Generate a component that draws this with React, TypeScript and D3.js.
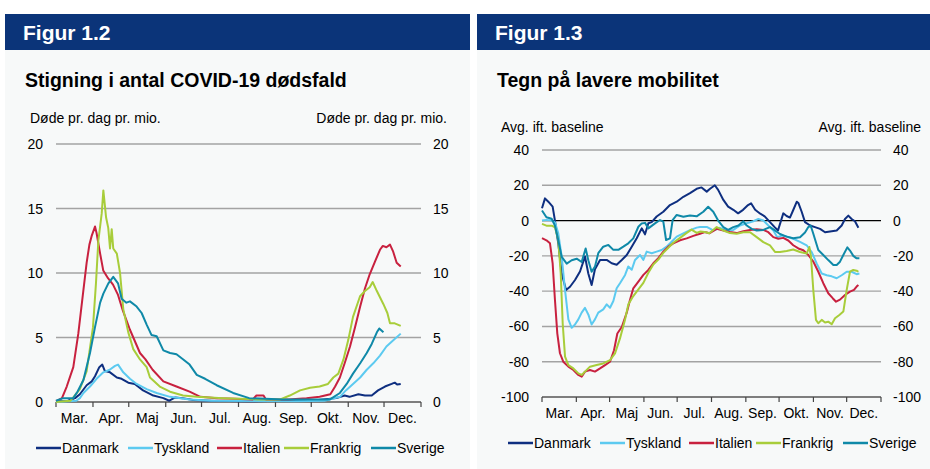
import * as d3 from 'd3';

const MONTHS = ['Mar.', 'Apr.', 'Maj', 'Jun.', 'Jul.', 'Aug.', 'Sep.', 'Okt.', 'Nov.', 'Dec.'];
const START = new Date(2020, 2, 1);
const END = new Date(2021, 0, 1);

const COUNTRIES = ['Danmark', 'Tyskland', 'Italien', 'Frankrig', 'Sverige'];
const COLORS: Record<string, string> = {
  Danmark: '#0e2f80',
  Tyskland: '#5ccaf0',
  Italien: '#c8213f',
  Frankrig: '#a8cd3a',
  Sverige: '#0f89a8',
};

// [days since 1 March, value]
type Pt = [number, number];

const DEATHS_DANMARK: Pt[] = [[0,0.05],[10,0.1],[16,0.3],[20,0.6],[25.7,1.3],[30,1.6],[32.7,2.0],[36.3,2.7],[38.8,2.9],[41,2.4],[45.3,2.3],[51,1.9],[55,1.8],[60.6,1.5],[66,1.4],[73,0.9],[81.6,0.5],[90,0.3],[95,0.1],[100,0.35],[106,0.3],[115,0.15],[130,0.1],[160,0.05],[190,0.1],[220,0.15],[235,0.3],[242,0.5],[246,0.4],[253.5,0.6],[259,0.5],[264.7,0.5],[270,0.9],[275.8,1.2],[281.4,1.4],[284,1.5],[286,1.35],[289,1.4]];
const DEATHS_TYSKLAND: Pt[] = [[0,0],[17,0.1],[20,0.3],[23,0.7],[28.5,1.2],[34,1.8],[39.7,2.3],[45,2.5],[49.5,2.8],[52,2.9],[56.4,2.3],[62,1.8],[67.6,1.4],[76,1.0],[84.4,0.7],[95.6,0.4],[112,0.2],[130,0.1],[200,0.05],[225,0.1],[238,0.4],[243,0.9],[249,1.4],[255,1.9],[260.5,2.5],[266,3.0],[271.6,3.6],[277,4.3],[283,4.8],[289,5.3]];
const DEATHS_ITALIEN: Pt[] = [[0,0.05],[5,0.3],[9,1.2],[14.5,2.7],[18.7,5.3],[23,8.7],[25.7,10.8],[28,12.2],[30,12.9],[32.7,13.6],[34,13.1],[37,11.5],[39.6,10.2],[43.6,9.6],[47.8,9.1],[52,8.3],[56,7.1],[62,5.6],[70.4,3.8],[75,3.3],[81,2.5],[90,1.6],[101,1.2],[112,0.8],[121,0.4],[135,0.3],[150,0.25],[165,0.2],[168,0.5],[174,0.5],[176,0.2],[195,0.2],[210,0.3],[221,0.4],[230,0.6],[234,1.2],[238,1.9],[242,3.0],[246.5,4.3],[250.7,5.8],[255,7.4],[259,8.8],[263,9.9],[267.5,10.9],[271.6,11.8],[274,12.1],[277,12.0],[280,12.2],[282.5,11.7],[285.6,10.8],[289,10.5]];
const DEATHS_FRANKRIG: Pt[] = [[0,0],[12,0.1],[14,0.3],[20,1.0],[25.7,2.4],[31,5.8],[33.5,9.2],[35.5,12.5],[38.3,14.6],[39.7,16.4],[42,14.3],[43.8,13.5],[45.3,11.9],[46.7,13.4],[48,11.9],[51,11.5],[53.7,10],[56.4,7.2],[60.6,5.4],[64.8,4.1],[70.4,3.3],[76,2.7],[78.8,1.9],[87,1.2],[95.6,0.8],[106.5,0.5],[118,0.4],[140,0.3],[170,0.2],[188,0.2],[196,0.5],[204.6,0.9],[213,1.1],[221,1.2],[228,1.4],[232.5,1.9],[236.7,2.2],[241,3.3],[245,4.8],[249,6.6],[254.9,8.2],[259,8.6],[263,8.9],[265.5,9.3],[269,8.6],[274.4,7.6],[277.8,6.9],[280,6.1],[284,6.1],[289,5.9]];
const DEATHS_SVERIGE: Pt[] = [[0,0.1],[6,0.3],[14.5,0.3],[18,0.8],[23,1.7],[28.5,3.8],[32.7,5.8],[37,7.7],[39.7,8.4],[43.9,9.2],[48,9.7],[52,9.2],[55,8.0],[59,7.7],[62,7.8],[67.6,7.4],[71.8,6.9],[76,6.0],[80,5.2],[84.4,5.1],[90,4.0],[95.6,3.8],[101,3.7],[106.7,3.3],[112,2.9],[118,2.1],[125,1.8],[134.7,1.3],[148.5,0.7],[162,0.3],[190,0.2],[220,0.2],[229.7,0.2],[238,0.7],[243.7,1.4],[249,2.2],[255,3.0],[260.5,3.8],[264.7,4.5],[269,5.4],[271,5.7],[274.5,5.4]];

const MOB_DANMARK: Pt[] = [[0,7],[2.7,12.6],[5.7,10.7],[9.6,7.9],[11.7,0],[14.7,-13],[17.8,-30],[21.7,-39.4],[25.3,-37.5],[29.8,-33.7],[34.3,-28.9],[38.8,-20.4],[41.8,-30],[44.8,-36.5],[47.8,-27.6],[52.4,-22.3],[58.4,-22.3],[62.9,-24.2],[67.4,-25],[72,-22.3],[76.5,-19.5],[81,-14.8],[85.5,-10],[90,-4.4],[93,-7.8],[96,-1.5],[99,-0.9],[103.5,2.3],[109.5,5],[115.5,8.8],[121.6,10.7],[127.6,13.5],[133.6,15.6],[139.6,18],[144,18.8],[148.7,16.4],[151.7,18],[156,20],[159,17.4],[163.7,11.7],[168,7.9],[172.7,6.1],[177,4.1],[181.5,6.1],[186,8.8],[188.7,9.8],[192.4,6.1],[197,3.9],[201,2.4],[205.8,-0.9],[210,-3.7],[213,-5.6],[217.8,4.1],[220.8,2.6],[223.8,1.7],[226.8,6],[230,10.7],[231.4,10],[234.4,5],[237.4,-0.9],[242,-2.8],[246.4,-3.7],[251,-4.7],[255.5,-6.6],[260,-6.2],[266,-5.6],[270.5,-2.8],[273.5,0.9],[276.5,2.8],[279.5,0.9],[282.5,-0.4],[285.6,-4.1]];
const MOB_TYSKLAND: Pt[] = [[0,0],[4,0.4],[8.7,0],[11.7,-1],[14.7,-7.2],[17.8,-20.6],[20.8,-39.4],[23.8,-56],[26.8,-60.8],[29.8,-58.9],[32.8,-56],[35.8,-52.2],[38.8,-49.5],[41.8,-53.2],[44.8,-58.9],[47.8,-56],[50.8,-52.2],[55.3,-50.3],[58.4,-47.5],[61.4,-49.4],[64.4,-45.6],[67.4,-38.4],[70.4,-35.5],[75,-30.8],[77.9,-26],[81,-27.9],[84,-22.3],[88.5,-19.5],[91.5,-22.3],[94.5,-17.6],[99,-18.5],[103.5,-17.6],[108,-16.7],[112.5,-14.8],[117,-12],[121.6,-9.1],[127.6,-7.2],[133.6,-5.4],[139.6,-4],[142.6,-3.7],[148.7,-3.6],[154.6,-5.6],[160.7,-4.1],[166.7,-5.6],[172.7,-5.3],[178.7,-2.8],[184.8,-1.5],[190.8,-0.4],[195.3,0.9],[199.8,0],[204.3,-2.8],[208.8,-5.6],[212.4,-9.4],[216.4,-8.5],[220.8,-9],[226.8,-10.3],[232.9,-12.1],[238.9,-14],[243.4,-17.8],[248,-24.4],[252.5,-30],[257,-31],[261.5,-31.6],[266,-32.7],[270.5,-31],[275,-29],[279.5,-29],[284,-30.4],[286.5,-30]];
const MOB_ITALIEN: Pt[] = [[0,-10],[4,-11.2],[7.2,-12.9],[9.6,-24.2],[11.7,-45],[13.8,-63.9],[16.2,-75.2],[19.2,-80],[23.8,-82.8],[28.3,-84.7],[32.8,-87.5],[35.8,-88.5],[38.8,-85.6],[43.3,-84.7],[47.8,-85.6],[52.4,-83.8],[56.9,-81.9],[61.4,-80],[65,-73.5],[68,-64],[72,-60.3],[76.5,-52.2],[79.4,-45],[82.4,-38.4],[87,-34.6],[91.5,-30.8],[96,-28],[100.5,-24.2],[105,-21.3],[109.5,-17.6],[114,-14.8],[118.5,-12.9],[124.6,-11.2],[130.6,-10.1],[136.6,-8.7],[142.6,-7.5],[147,-6.5],[151,-7.2],[157.7,-4.7],[163.7,-5.6],[169.7,-6.5],[175.7,-7.1],[181.8,-6],[187.8,-5.3],[193.8,-4.9],[199.8,-5.3],[204.3,-6.6],[208.8,-9.4],[213.3,-10.3],[217.8,-9.8],[222.3,-11.3],[226.8,-14],[231.4,-15.8],[235.9,-16.8],[240.4,-19.5],[244.9,-23.3],[249.4,-29],[253.9,-35.5],[258.4,-41.2],[262.4,-44],[265.4,-46],[269,-44.8],[273.5,-42.2],[278,-40.3],[281.6,-39.3],[284,-37.4],[285.6,-36.5]];
const MOB_FRANKRIG: Pt[] = [[0,-1.9],[4,-2.9],[8.7,-2.9],[11.7,-3.8],[14.7,-11.2],[16.9,-30],[18.7,-58.5],[20.8,-77.1],[23.8,-81.9],[28.3,-83.8],[32.8,-86.6],[35.8,-87.5],[38.8,-85.6],[43.3,-82.8],[49.3,-81.9],[55.3,-81],[61.4,-79.1],[65.9,-75.3],[70.4,-66.8],[75,-56],[77.9,-47.5],[82.4,-42.8],[87,-39],[91.5,-35.3],[96,-29.6],[100.5,-24.9],[105,-22.1],[109.5,-18.3],[114,-15.4],[118.5,-12.6],[124.6,-9.8],[130.6,-7],[135,-5.1],[139.6,-7],[143,-6.2],[147,-6.5],[151,-7.2],[157.7,-3.7],[163.7,-5.6],[169.7,-7.1],[175.7,-7.5],[181.8,-6.6],[187.8,-6.6],[193.8,-9.4],[199.8,-12.2],[205.8,-14.1],[210.3,-17.8],[214.8,-17.8],[220.8,-17.2],[226.8,-16.4],[232.9,-17.8],[238.9,-18.7],[241.3,-15],[242.8,-20.5],[244.9,-39.4],[247.3,-56.3],[249.4,-58.2],[252.5,-56.3],[255.5,-57.8],[258.4,-57.3],[261.5,-58.8],[264.5,-55.4],[268.4,-53.5],[272,-51.6],[275,-39.4],[278,-29],[281,-28],[284,-28.4],[285.6,-29]];
const MOB_SVERIGE: Pt[] = [[0,5.7],[4,1.9],[8.7,1],[11.7,-2.9],[14.7,-11.2],[17.8,-20.6],[22.3,-24.4],[26.8,-22.5],[31.3,-21.6],[35.8,-23.5],[39.4,-15.8],[41.8,-22.5],[44.8,-29],[47.8,-26.1],[50.8,-18.5],[55.3,-14.8],[59.9,-13.8],[64.4,-16.6],[68.9,-16.6],[73.4,-14.8],[77.9,-12.9],[82.4,-10.1],[87,-3.5],[90,-1.6],[93,-1.3],[96,-4.4],[102,-1.6],[106.5,0.3],[109.5,-0.6],[112,-11],[115.5,-10.1],[117.9,0.3],[121.6,3.2],[127.6,2.2],[133.6,2.9],[139.6,2.4],[145.6,5],[150,7.8],[154.6,5],[159,0],[163.7,-3.7],[168,-5.3],[172.7,-3.7],[177.3,-2.8],[181.8,-0.4],[184.8,-2.8],[189.3,-4.7],[193.8,-5.6],[199.8,-5.3],[205.8,-3.7],[210.3,-5.6],[214.8,-7.6],[220.8,-9.1],[226.8,-10],[232.9,-9.5],[237.4,-6.8],[240.4,-3.7],[242.5,-2.8],[244.9,-7.5],[249.4,-16.7],[253.9,-19.5],[258.4,-22.4],[263,-25.2],[266,-25.2],[269,-23.3],[272,-19.5],[275.6,-15.2],[278,-17],[281,-20],[284,-21.4],[286.5,-21.4]];

const DEATH_TICKS = [0, 5, 10, 15, 20];
const MOB_TICKS = [-100, -80, -60, -40, -20, 0, 20, 40];

const FONT = '"Liberation Sans", Arial, sans-serif';
const HEADER_BLUE = '#0b3479';
const PANEL_BG = '#f7f9f9';
const LEGEND_X = [31, 123, 212, 279, 366];

type PanelProps = {
  px: number;
  pw: number;
  figure: string;
  title: string;
  unit: string;
  unitLeftX: number;
  unitRightX: number;
  unitY: number;
  x0: number;
  x1: number;
  yTop: number;
  yBottom: number;
  domain: [number, number];
  ticks: number[];
  series: Pt[][];
  zeroLine: boolean;
};

function Panel(p: PanelProps) {
  const x = d3.scaleTime().domain([START, END]).range([p.x0, p.x1]);
  const y = d3.scaleLinear().domain(p.domain).range([p.yBottom, p.yTop]);
  const line = d3.line<Pt>()
    .x(d => x(d3.timeDay.offset(START, 0) .getTime() + d[0] * 864e5))
    .y(d => y(d[1]));
  const monthStarts = d3.timeMonth.range(START, END);
  const tickDates = [...monthStarts, END];

  return (
    <g fontFamily={FONT}>
      <rect x={p.px} y={50} width={p.pw} height={419} fill={PANEL_BG} />
      <rect x={p.px} y={14} width={p.pw} height={36} fill={HEADER_BLUE} />
      <text x={p.px + 18} y={39.5} fill="white" fontSize={21} fontWeight={700}>{p.figure}</text>
      <text x={p.px + 20} y={87} fill="#000" fontSize={19.5} fontWeight={700}>{p.title}</text>
      <text x={p.unitLeftX} y={p.unitY} fontSize={14} fill="#000">{p.unit}</text>
      <text x={p.unitRightX} y={p.unitY} fontSize={14} fill="#000" textAnchor="end">{p.unit}</text>

      {/* gridlines */}
      {p.ticks.map(t => (
        <line key={t} x1={p.x0} x2={p.x1} y1={y(t)} y2={y(t)}
          stroke={t === 0 && p.zeroLine ? '#000' : '#a3a3a3'}
          strokeWidth={t === 0 && p.zeroLine ? 1.2 : 1.4} />
      ))}
      {p.ticks.map(t => (
        <g key={'l' + t} fontSize={14} fill="#000">
          <text x={p.x0 - 13} y={y(t) + 5} textAnchor="end">{t}</text>
          <text x={p.x1 + 12} y={y(t) + 5}>{t}</text>
        </g>
      ))}

      {/* x axis */}
      <line x1={p.x0} x2={p.x1} y1={p.yBottom} y2={p.yBottom} stroke="#444" strokeWidth={1.2} />
      {tickDates.map((d, i) => (
        <line key={i} x1={x(d)} x2={x(d)} y1={p.yBottom} y2={p.yBottom + 5} stroke="#444" strokeWidth={1.2} />
      ))}
      {monthStarts.map((d, i) => {
        const next = tickDates[i + 1];
        return (
          <text key={i} x={(x(d) + x(next)) / 2} y={p.yBottom + 21} fontSize={14} textAnchor="middle" fill="#000">
            {MONTHS[i]}
          </text>
        );
      })}

      {/* series */}
      {p.series.map((s, i) => (
        <path key={i} d={line(s) ?? ''} fill="none" stroke={COLORS[COUNTRIES[i]]}
          strokeWidth={2} strokeLinejoin="round" />
      ))}

      {/* legend */}
      {COUNTRIES.map((c, i) => {
        const lx = p.px + LEGEND_X[i];
        const ly = p.yBottom + 46;
        return (
          <g key={c}>
            <line x1={lx} x2={lx + 25} y1={ly} y2={ly} stroke={COLORS[c]} strokeWidth={2.5} />
            <text x={lx + 26} y={ly + 5} fontSize={14} fill="#000">{c}</text>
          </g>
        );
      })}
    </g>
  );
}

export default function App() {
  return (
    <div style={{ position: 'absolute', left: 0, top: 0 }}>
      <svg width={930} height={469} style={{ display: 'block', background: 'white' }}>
        <Panel
          px={5} pw={465}
          figure="Figur 1.2"
          title="Stigning i antal COVID-19 dødsfald"
          unit="Døde pr. dag pr. mio."
          unitLeftX={30} unitRightX={447} unitY={122.5}
          x0={56} x1={421} yTop={144} yBottom={402}
          domain={[0, 20]} ticks={DEATH_TICKS}
          series={[DEATHS_DANMARK, DEATHS_TYSKLAND, DEATHS_ITALIEN, DEATHS_FRANKRIG, DEATHS_SVERIGE]}
          zeroLine={false}
        />
        <Panel
          px={477} pw={453}
          figure="Figur 1.3"
          title="Tegn på lavere mobilitet"
          unit="Avg. ift. baseline"
          unitLeftX={501} unitRightX={921} unitY={131.5}
          x0={542} x1={881} yTop={150} yBottom={397}
          domain={[-100, 40]} ticks={MOB_TICKS}
          series={[MOB_DANMARK, MOB_TYSKLAND, MOB_ITALIEN, MOB_FRANKRIG, MOB_SVERIGE]}
          zeroLine={true}
        />
      </svg>
    </div>
  );
}
